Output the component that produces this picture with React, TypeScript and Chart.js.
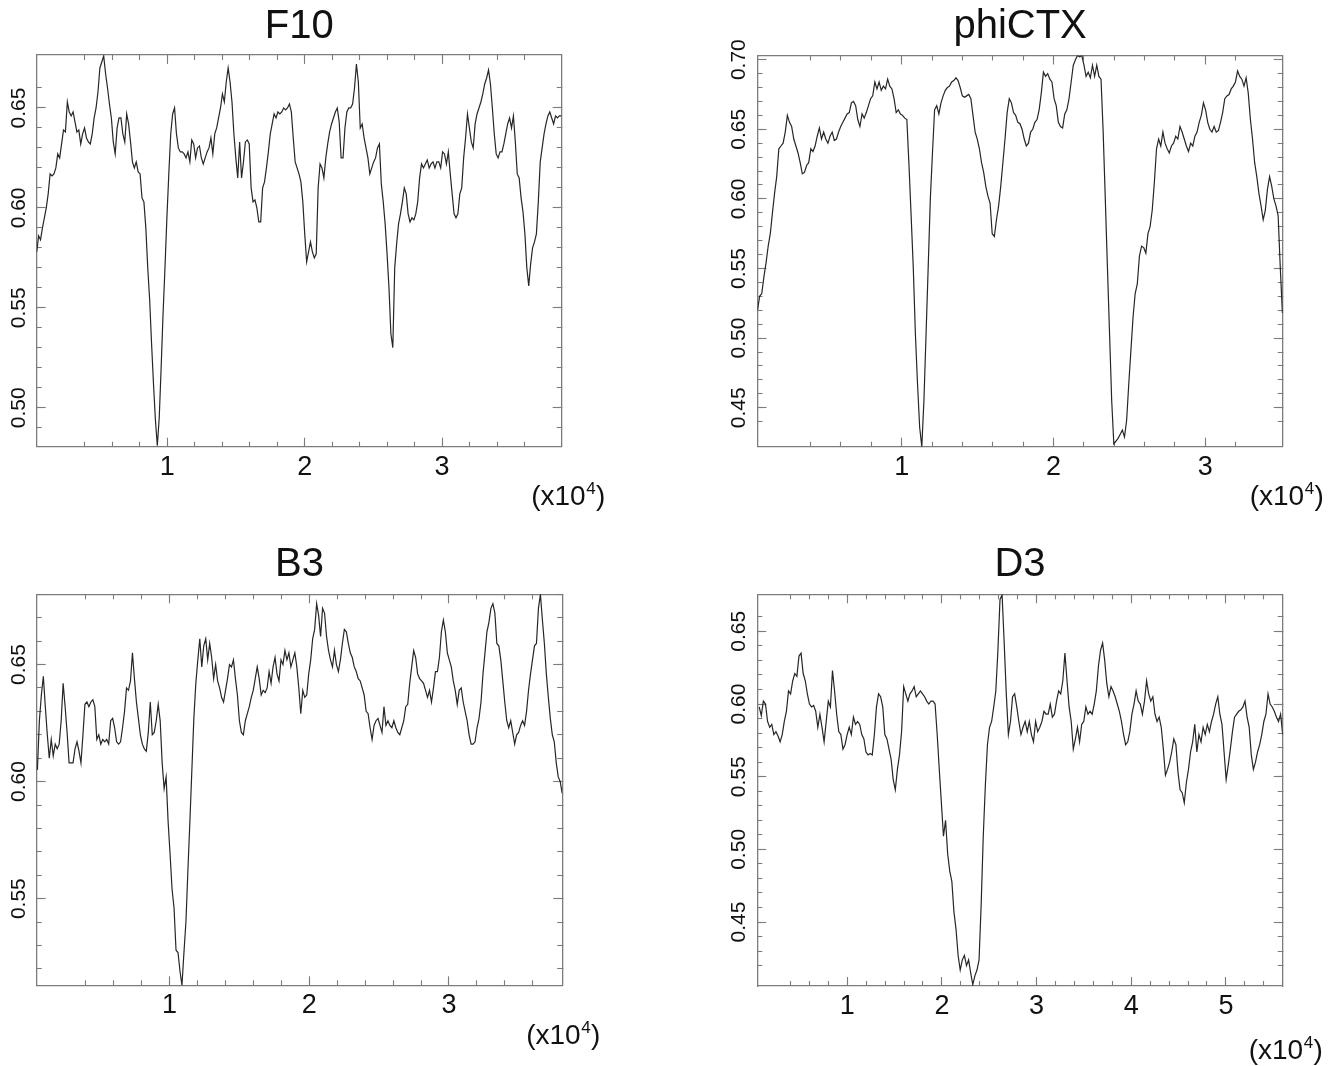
import React, { useEffect, useRef } from "react";
import { Chart, registerables } from "chart.js";

Chart.register(...registerables);

const FONT = "'Liberation Sans', Arial, Helvetica, sans-serif";
const TEXT_COLOR = "#111111";
const AXIS_COLOR = "#7c7c7c";
const LINE_COLOR = "#262626";
const CANVAS_W = 668;
const CANVAS_H = 533;

// ---------------- data ----------------
// sliding-window values, evenly spaced between the first and last position (x10^4)
const F10_POSITIONS = [0.05, 3.867];
const F10_VALUES = [
  0.578, 0.586, 0.584, 0.590, 0.595, 0.600, 0.607, 0.617, 0.616, 0.617,
  0.620, 0.627, 0.625, 0.632, 0.639, 0.638, 0.653, 0.648, 0.646, 0.648,
  0.643, 0.638, 0.639, 0.632, 0.637, 0.640, 0.635, 0.633, 0.632, 0.637,
  0.645, 0.650, 0.658, 0.670, 0.673, 0.676, 0.667, 0.660, 0.652, 0.645,
  0.633, 0.627, 0.640, 0.645, 0.645, 0.637, 0.633, 0.647, 0.642, 0.633,
  0.623, 0.620, 0.623, 0.618, 0.617, 0.605, 0.603, 0.590, 0.570, 0.554,
  0.532, 0.512, 0.494, 0.481, 0.495, 0.520, 0.547, 0.570, 0.595, 0.617,
  0.637, 0.647, 0.650, 0.637, 0.630, 0.628, 0.628, 0.627, 0.625, 0.628,
  0.623, 0.634, 0.632, 0.625, 0.630, 0.631, 0.625, 0.622, 0.625, 0.628,
  0.630, 0.635, 0.627, 0.637, 0.640, 0.645, 0.650, 0.657, 0.653, 0.663,
  0.670, 0.663, 0.653, 0.637, 0.625, 0.615, 0.633, 0.615, 0.623, 0.633,
  0.634, 0.632, 0.610, 0.603, 0.604, 0.600, 0.593, 0.593, 0.610, 0.613,
  0.620, 0.628, 0.637, 0.642, 0.647, 0.645, 0.648, 0.647, 0.648, 0.650,
  0.649, 0.650, 0.652, 0.648, 0.635, 0.623, 0.620, 0.617, 0.613, 0.603,
  0.587, 0.573, 0.578, 0.583, 0.578, 0.575, 0.577, 0.610, 0.622, 0.620,
  0.615, 0.625, 0.632, 0.638, 0.642, 0.645, 0.648, 0.650, 0.643, 0.625,
  0.625, 0.640, 0.648, 0.650, 0.650, 0.652, 0.660, 0.672, 0.663, 0.640,
  0.642, 0.635, 0.630, 0.625, 0.617, 0.620, 0.623, 0.625, 0.630, 0.632,
  0.612, 0.603, 0.592, 0.577, 0.560, 0.537, 0.530, 0.570, 0.582, 0.592,
  0.597, 0.603, 0.610, 0.607, 0.597, 0.593, 0.595, 0.594, 0.597, 0.603,
  0.615, 0.622, 0.620, 0.622, 0.624, 0.620, 0.622, 0.623, 0.620, 0.623,
  0.623, 0.620, 0.628, 0.627, 0.622, 0.628, 0.617, 0.607, 0.597, 0.595,
  0.597, 0.607, 0.610, 0.625, 0.635, 0.647, 0.640, 0.633, 0.630, 0.642,
  0.647, 0.650, 0.653, 0.657, 0.662, 0.665, 0.669, 0.662, 0.650, 0.637,
  0.627, 0.625, 0.628, 0.628, 0.632, 0.637, 0.642, 0.645, 0.640, 0.646,
  0.633, 0.617, 0.615, 0.605, 0.598, 0.587, 0.570, 0.561, 0.572, 0.580,
  0.583, 0.587, 0.603, 0.623, 0.630, 0.637, 0.642, 0.646, 0.648, 0.645,
  0.642, 0.646, 0.645, 0.646, 0.646,
];

const PHICTX_POSITIONS = [0.05, 3.508];
const PHICTX_VALUES = [
  0.520, 0.530, 0.532, 0.544, 0.554, 0.566, 0.575, 0.590, 0.604, 0.616,
  0.636, 0.638, 0.640, 0.648, 0.660, 0.655, 0.652, 0.643, 0.638, 0.633,
  0.626, 0.618, 0.619, 0.624, 0.626, 0.636, 0.634, 0.638, 0.645, 0.651,
  0.643, 0.648, 0.643, 0.640, 0.645, 0.648, 0.642, 0.643, 0.648, 0.652,
  0.655, 0.658, 0.661, 0.662, 0.669, 0.670, 0.667, 0.657, 0.652, 0.661,
  0.658, 0.662, 0.667, 0.672, 0.674, 0.684, 0.679, 0.684, 0.678, 0.681,
  0.679, 0.686, 0.681, 0.679, 0.672, 0.662, 0.664, 0.661, 0.660, 0.658,
  0.657, 0.624, 0.588, 0.551, 0.503, 0.467, 0.436, 0.422, 0.455, 0.503,
  0.551, 0.600, 0.633, 0.664, 0.667, 0.661, 0.669, 0.674, 0.678, 0.680,
  0.681, 0.684, 0.685, 0.687, 0.685, 0.680, 0.674, 0.673, 0.674, 0.675,
  0.672, 0.660, 0.648, 0.643, 0.636, 0.626, 0.619, 0.609, 0.602, 0.597,
  0.575, 0.573, 0.585, 0.595, 0.609, 0.626, 0.643, 0.662, 0.672, 0.669,
  0.662, 0.660, 0.655, 0.654, 0.650, 0.643, 0.638, 0.640, 0.648, 0.650,
  0.655, 0.657, 0.664, 0.676, 0.691, 0.688, 0.690, 0.686, 0.684, 0.672,
  0.667, 0.655, 0.652, 0.651, 0.661, 0.664, 0.672, 0.684, 0.696, 0.700,
  0.703, 0.702, 0.703, 0.696, 0.688, 0.691, 0.687, 0.696, 0.688, 0.696,
  0.688, 0.686, 0.648, 0.600, 0.551, 0.503, 0.455, 0.424, 0.426, 0.428,
  0.431, 0.434, 0.429, 0.441, 0.467, 0.491, 0.515, 0.532, 0.539, 0.559,
  0.566, 0.565, 0.561, 0.575, 0.580, 0.592, 0.612, 0.636, 0.643, 0.638,
  0.648, 0.640, 0.636, 0.633, 0.638, 0.640, 0.645, 0.643, 0.652, 0.648,
  0.643, 0.638, 0.634, 0.640, 0.638, 0.645, 0.648, 0.655, 0.660, 0.669,
  0.664, 0.655, 0.650, 0.648, 0.652, 0.648, 0.649, 0.655, 0.662, 0.672,
  0.674, 0.675, 0.679, 0.681, 0.684, 0.692, 0.688, 0.686, 0.681, 0.687,
  0.676, 0.657, 0.643, 0.626, 0.616, 0.604, 0.595, 0.585, 0.592, 0.607,
  0.616, 0.609, 0.600, 0.595, 0.588, 0.551, 0.518,
];

const B3_POSITIONS = [0.055, 3.81];
const B3_VALUES = [
  0.605, 0.626, 0.637, 0.645, 0.632, 0.620, 0.610, 0.618, 0.611, 0.616,
  0.614, 0.616, 0.626, 0.642, 0.632, 0.621, 0.608, 0.608, 0.608, 0.614,
  0.617, 0.613, 0.608, 0.620, 0.633, 0.634, 0.632, 0.634, 0.635, 0.632,
  0.618, 0.620, 0.616, 0.618, 0.617, 0.618, 0.616, 0.626, 0.627, 0.623,
  0.617, 0.616, 0.617, 0.623, 0.630, 0.640, 0.639, 0.643, 0.655, 0.644,
  0.634, 0.627, 0.620, 0.616, 0.614, 0.613, 0.621, 0.634, 0.620, 0.621,
  0.626, 0.633, 0.626, 0.608, 0.597, 0.602, 0.583, 0.569, 0.554, 0.546,
  0.528, 0.527, 0.519, 0.513, 0.527, 0.540, 0.562, 0.583, 0.605, 0.627,
  0.642, 0.652, 0.661, 0.649, 0.658, 0.661, 0.652, 0.659, 0.653, 0.644,
  0.650, 0.643, 0.640, 0.636, 0.634, 0.639, 0.644, 0.650, 0.649, 0.652,
  0.644, 0.637, 0.626, 0.621, 0.620, 0.626, 0.629, 0.632, 0.636, 0.639,
  0.644, 0.649, 0.644, 0.637, 0.639, 0.638, 0.640, 0.647, 0.642, 0.649,
  0.653, 0.646, 0.643, 0.652, 0.650, 0.656, 0.652, 0.655, 0.649, 0.652,
  0.655, 0.649, 0.640, 0.629, 0.639, 0.636, 0.637, 0.646, 0.652, 0.661,
  0.665, 0.676, 0.671, 0.662, 0.674, 0.672, 0.662, 0.656, 0.652, 0.649,
  0.656, 0.650, 0.647, 0.652, 0.659, 0.665, 0.664, 0.659, 0.655, 0.653,
  0.649, 0.647, 0.644, 0.643, 0.640, 0.637, 0.630, 0.629, 0.623, 0.618,
  0.624, 0.626, 0.627, 0.624, 0.621, 0.632, 0.624, 0.626, 0.624, 0.623,
  0.626, 0.623, 0.621, 0.620, 0.623, 0.626, 0.632, 0.633, 0.642, 0.649,
  0.656, 0.653, 0.646, 0.644, 0.643, 0.642, 0.639, 0.636, 0.639, 0.634,
  0.640, 0.647, 0.647, 0.653, 0.664, 0.669, 0.664, 0.655, 0.652, 0.649,
  0.643, 0.639, 0.633, 0.639, 0.640, 0.634, 0.630, 0.626, 0.620, 0.616,
  0.616, 0.617, 0.623, 0.627, 0.634, 0.646, 0.655, 0.664, 0.668, 0.674,
  0.676, 0.672, 0.659, 0.658, 0.652, 0.643, 0.634, 0.626, 0.623, 0.626,
  0.621, 0.616, 0.620, 0.621, 0.624, 0.626, 0.624, 0.630, 0.639, 0.646,
  0.652, 0.658, 0.659, 0.674, 0.680, 0.669, 0.659, 0.646, 0.636, 0.627,
  0.620, 0.617, 0.608, 0.602, 0.600, 0.595,
];

const D3_POSITIONS = [0.07, 5.6];
const D3_VALUES = [
  0.598, 0.592, 0.602, 0.600, 0.588, 0.584, 0.586, 0.579, 0.581, 0.578,
  0.574, 0.579, 0.588, 0.595, 0.609, 0.607, 0.616, 0.621, 0.619, 0.633,
  0.635, 0.621, 0.616, 0.607, 0.600, 0.598, 0.599, 0.595, 0.584, 0.593,
  0.584, 0.574, 0.588, 0.602, 0.598, 0.623, 0.609, 0.593, 0.581, 0.579,
  0.569, 0.572, 0.579, 0.584, 0.579, 0.591, 0.586, 0.588, 0.586, 0.579,
  0.576, 0.567, 0.565, 0.566, 0.565, 0.579, 0.598, 0.607, 0.605, 0.598,
  0.579, 0.576, 0.569, 0.562, 0.548, 0.541, 0.555, 0.565, 0.581, 0.612,
  0.607, 0.602, 0.607, 0.609, 0.612, 0.605, 0.607, 0.609, 0.607, 0.605,
  0.602, 0.600, 0.602, 0.602, 0.600, 0.579, 0.555, 0.532, 0.509, 0.520,
  0.497, 0.485, 0.478, 0.457, 0.445, 0.427, 0.417, 0.424, 0.427, 0.420,
  0.424, 0.415, 0.407, 0.413, 0.417, 0.424, 0.462, 0.509, 0.544, 0.572,
  0.584, 0.588, 0.598, 0.609, 0.637, 0.672, 0.675, 0.642, 0.607, 0.579,
  0.588, 0.605, 0.607, 0.598, 0.588, 0.579, 0.584, 0.588, 0.581, 0.588,
  0.579, 0.574, 0.588, 0.581, 0.584, 0.588, 0.595, 0.593, 0.593, 0.600,
  0.591, 0.593, 0.602, 0.609, 0.607, 0.616, 0.635, 0.616, 0.598, 0.588,
  0.569, 0.576, 0.584, 0.574, 0.586, 0.588, 0.598, 0.593, 0.595, 0.593,
  0.600, 0.609, 0.626, 0.637, 0.642, 0.630, 0.614, 0.605, 0.612, 0.609,
  0.605, 0.600, 0.595, 0.588, 0.579, 0.572, 0.574, 0.581, 0.593, 0.600,
  0.609, 0.602, 0.600, 0.593, 0.602, 0.616, 0.607, 0.602, 0.605, 0.593,
  0.588, 0.591, 0.584, 0.569, 0.551, 0.555, 0.560, 0.567, 0.576, 0.572,
  0.553, 0.541, 0.539, 0.532, 0.546, 0.555, 0.567, 0.574, 0.586, 0.567,
  0.579, 0.574, 0.584, 0.579, 0.586, 0.581, 0.588, 0.593, 0.600, 0.605,
  0.593, 0.586, 0.567, 0.548, 0.558, 0.569, 0.581, 0.591, 0.593, 0.595,
  0.596, 0.598, 0.602, 0.591, 0.584, 0.565, 0.555, 0.560, 0.567, 0.572,
  0.579, 0.588, 0.593, 0.607, 0.600, 0.598, 0.595, 0.591, 0.588, 0.593,
  0.579,
];

// axis ranges and tick labels
const F10_X_RANGE = [0.05, 3.87];
const F10_Y_RANGE = [0.4805, 0.6765];
const PHICTX_X_RANGE = [0.05, 3.51];
const PHICTX_Y_RANGE = [0.422, 0.703];
const B3_X_RANGE = [0.05, 3.81];
const B3_Y_RANGE = [0.513, 0.68];
const D3_X_RANGE = [0.05, 5.6];
const D3_Y_RANGE = [0.406, 0.6755];

const X_TICKS_SHORT = [1, 2, 3];
const X_TICKS_LONG = [1, 2, 3, 4, 5];
const Y_TICKS_F10 = [0.5, 0.55, 0.6, 0.65];
const Y_TICKS_PHICTX = [0.45, 0.5, 0.55, 0.6, 0.65, 0.7];
const Y_TICKS_B3 = [0.55, 0.6, 0.65];
const Y_TICKS_D3 = [0.45, 0.5, 0.55, 0.6, 0.65];
const X_MINOR_STEP = 0.2;
const Y_MINOR_STEP = 0.01;
const UNIT_TEXT = ["(x10", "4", ")"];

// ---------------- layout ----------------
type Box = {
  left: number; top: number;
  chartLeft: number; chartRight: number; chartTop: number; chartBottom: number;
  titleTop: number; unitDx: number; unitDy: number;
};
type PanelSpec = {
  title: string; values: number[]; positions: number[];
  xRange: number[]; yRange: number[]; xTicks: number[]; yTicks: number[]; box: Box;
};

const PANELS: PanelSpec[] = [
  {
    title: "F10", values: F10_VALUES, positions: F10_POSITIONS,
    xRange: F10_X_RANGE, yRange: F10_Y_RANGE, xTicks: X_TICKS_SHORT, yTicks: Y_TICKS_F10,
    box: { left: 0, top: 0, chartLeft: 36.7, chartRight: 561.7, chartTop: 55, chartBottom: 446.7, titleTop: 3, unitDx: -30.5, unitDy: 51 },
  },
  {
    title: "phiCTX", values: PHICTX_VALUES, positions: PHICTX_POSITIONS,
    xRange: PHICTX_X_RANGE, yRange: PHICTX_Y_RANGE, xTicks: X_TICKS_SHORT, yTicks: Y_TICKS_PHICTX,
    box: { left: 668, top: 0, chartLeft: 89.5, chartRight: 614.7, chartTop: 55.5, chartBottom: 446.7, titleTop: 3, unitDx: -33, unitDy: 50.3 },
  },
  {
    title: "B3", values: B3_VALUES, positions: B3_POSITIONS,
    xRange: B3_X_RANGE, yRange: B3_Y_RANGE, xTicks: X_TICKS_SHORT, yTicks: Y_TICKS_B3,
    box: { left: 0, top: 533, chartLeft: 36.7, chartRight: 562.2, chartTop: 61.3, chartBottom: 452.3, titleTop: 8, unitDx: -36, unitDy: 50.7 },
  },
  {
    title: "D3", values: D3_VALUES, positions: D3_POSITIONS,
    xRange: D3_X_RANGE, yRange: D3_Y_RANGE, xTicks: X_TICKS_LONG, yTicks: Y_TICKS_D3,
    box: { left: 668, top: 533, chartLeft: 89.3, chartRight: 614.7, chartTop: 61.3, chartBottom: 453, titleTop: 8, unitDx: -34, unitDy: 65 },
  },
];

const unitLabelPlugin = {
  id: "unitLabel",
  afterDraw(chart: any, _args: any, opts: any) {
    const { ctx, chartArea } = chart;
    const x0 = chartArea.right + opts.dx;
    const y0 = chartArea.bottom + opts.dy;
    ctx.save();
    ctx.fillStyle = TEXT_COLOR;
    ctx.textBaseline = "middle";
    ctx.textAlign = "left";
    ctx.font = `28px ${FONT}`;
    ctx.fillText(UNIT_TEXT[0], x0, y0);
    let x = x0 + ctx.measureText(UNIT_TEXT[0]).width + 0.5;
    ctx.font = `17px ${FONT}`;
    ctx.fillText(UNIT_TEXT[1], x, y0 - 8);
    x += ctx.measureText(UNIT_TEXT[1]).width + 0.5;
    ctx.font = `28px ${FONT}`;
    ctx.fillText(UNIT_TEXT[2], x, y0);
    ctx.restore();
  },
};

function makeScales(p: PanelSpec) {
  const [xMin, xMax] = p.xRange;
  const [yMin, yMax] = p.yRange;
  const b = p.box;
  const fixedTicks = (vals: number[]) => (s: any) => {
    s.ticks = vals.map((v) => ({ value: v }));
  };
  const multiplesOf = (step: number) => (s: any) => {
    s.ticks = s.ticks.filter((t: any) => Math.abs(t.value / step - Math.round(t.value / step)) < 1e-6);
  };
  const edge = { display: true, color: AXIS_COLOR, width: 1.3 };
  const markAxis = (axis: "x" | "y", position: string, len: number, after: any, step?: number, withBorder = false) => ({
    type: "linear",
    axis,
    position,
    weight: 0,
    min: axis === "x" ? xMin : yMin,
    max: axis === "x" ? xMax : yMax,
    ticks: step ? { display: false, stepSize: step } : { display: false },
    grid: {
      display: true, drawOnChartArea: false, drawTicks: true, tickLength: -len,
      tickColor: AXIS_COLOR, tickWidth: 1.1, lineWidth: 1,
    },
    border: withBorder ? edge : { display: false },
    afterBuildTicks: after,
    afterFit: (s: any) => {
      if (axis === "x") s.height = 0;
      else s.width = 0;
    },
  });
  return {
    x: {
      type: "linear", axis: "x", position: "bottom", weight: 1, min: xMin, max: xMax,
      afterBuildTicks: fixedTicks(p.xTicks),
      afterFit: (s: any) => { s.height = CANVAS_H - b.chartBottom; },
      grid: { display: false, drawTicks: false, tickLength: 0 },
      border: edge,
      ticks: {
        autoSkip: false, maxRotation: 0, minRotation: 0, padding: 4.5, color: TEXT_COLOR,
        font: { family: FONT, size: 27 },
        callback: (v: any) => String(v),
      },
    },
    y: {
      type: "linear", axis: "y", position: "left", weight: 1, min: yMin, max: yMax,
      afterBuildTicks: fixedTicks(p.yTicks),
      afterFit: (s: any) => { s.width = b.chartLeft; },
      grid: { display: false, drawTicks: false, tickLength: 0 },
      border: edge,
      ticks: {
        autoSkip: false, minRotation: 90, maxRotation: 90, crossAlign: "center", padding: -2.5,
        color: TEXT_COLOR, font: { family: FONT, size: 21 },
        callback: (v: any) => Number(v).toFixed(2),
      },
    },
    xMajorBottom: markAxis("x", "bottom", 9, fixedTicks(p.xTicks)),
    xMinorBottom: markAxis("x", "bottom", 5, multiplesOf(X_MINOR_STEP), X_MINOR_STEP),
    xMajorTop: markAxis("x", "top", 9, fixedTicks(p.xTicks)),
    xMinorTop: markAxis("x", "top", 5, multiplesOf(X_MINOR_STEP), X_MINOR_STEP, true),
    yMajorLeft: markAxis("y", "left", 9, fixedTicks(p.yTicks)),
    yMinorLeft: markAxis("y", "left", 5, multiplesOf(Y_MINOR_STEP), Y_MINOR_STEP),
    yMajorRight: markAxis("y", "right", 9, fixedTicks(p.yTicks)),
    yMinorRight: markAxis("y", "right", 5, multiplesOf(Y_MINOR_STEP), Y_MINOR_STEP, true),
  };
}

function Panel({ spec }: { spec: PanelSpec }) {
  const ref = useRef<HTMLCanvasElement | null>(null);
  useEffect(() => {
    if (!ref.current) return;
    const b = spec.box;
    const n = spec.values.length;
    const [first, last] = spec.positions;
    const points = spec.values.map((v, i) => ({ x: first + ((last - first) * i) / (n - 1), y: v }));
    const chart = new Chart(ref.current, {
      type: "line",
      data: {
        datasets: [
          {
            data: points,
            xAxisID: "x",
            yAxisID: "y",
            borderColor: LINE_COLOR,
            borderWidth: 1.2,
            pointRadius: 0,
            tension: 0,
            fill: false,
          },
        ],
      },
      options: {
        animation: false,
        responsive: false,
        events: [],
        layout: { padding: { left: 0, top: 0, right: CANVAS_W - b.chartRight, bottom: 0 } },
        plugins: {
          legend: { display: false },
          tooltip: { enabled: false },
          title: {
            display: true,
            text: spec.title,
            fullSize: false,
            color: TEXT_COLOR,
            font: { family: FONT, size: 40, weight: "normal", lineHeight: 1.2 },
            padding: { top: b.titleTop, bottom: b.chartTop - b.titleTop - 48 },
          },
          unitLabel: { dx: b.unitDx, dy: b.unitDy },
        },
        scales: makeScales(spec),
      } as any,
      plugins: [unitLabelPlugin],
    } as any);
    return () => chart.destroy();
  }, [spec]);
  return (
    <canvas
      ref={ref}
      width={CANVAS_W}
      height={CANVAS_H}
      style={{ position: "absolute", left: spec.box.left, top: spec.box.top, width: CANVAS_W, height: CANVAS_H }}
    />
  );
}

export default function App() {
  return (
    <div style={{ position: "absolute", left: 0, top: 0, width: 1336, height: 1066, background: "#ffffff", overflow: "hidden" }}>
      {PANELS.map((p) => (
        <Panel key={p.title} spec={p} />
      ))}
    </div>
  );
}
